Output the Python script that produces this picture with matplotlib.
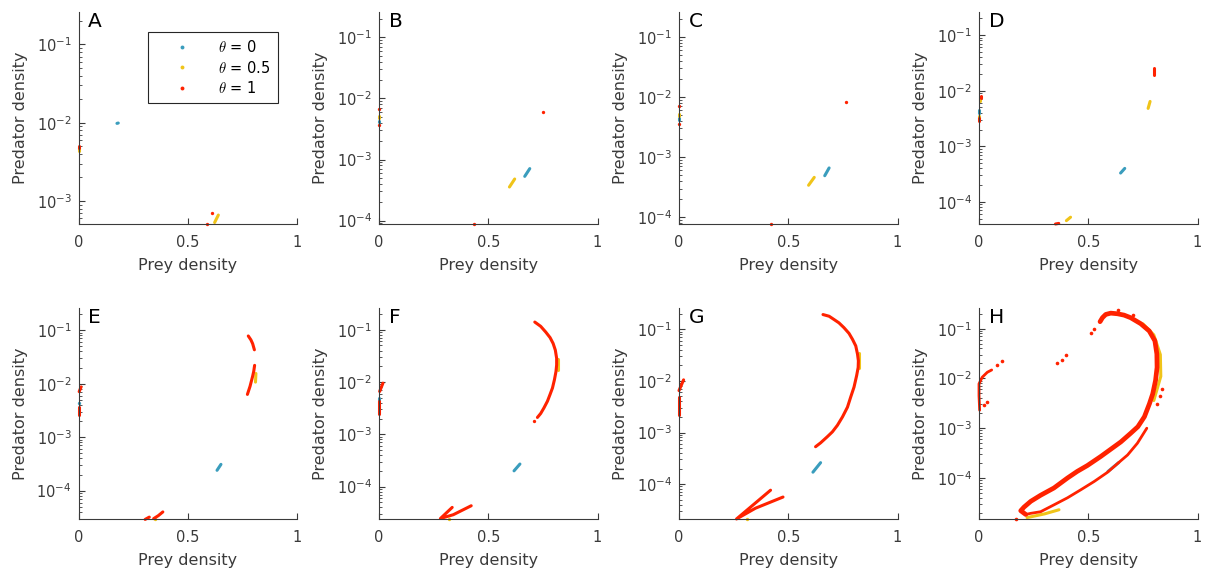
import matplotlib.pyplot as plt
from matplotlib.lines import Line2D

plt.rcParams['font.family'] = 'DejaVu Sans'
plt.rcParams['mathtext.fontset'] = 'cm'

BLUE = '#3a9dbd'
YELLOW = '#f0c419'
RED = '#ff2200'
GREY = '#3a3a3a'

panel_letters = ['A', 'B', 'C', 'D', 'E', 'F', 'G', 'H']
y_bottom = [5.07e-4, 8.8e-5, 7.7e-5, 4.0e-5, 2.95e-5, 2.4e-5, 2.1e-5, 1.5e-5]
y_top = 0.26
x_ticks = [0, 0.5, 1]
x_tick_labels = ['0', '0.5', '1']
legend_labels = [r'$\theta$ = 0', r'$\theta$ = 0.5', r'$\theta$ = 1']

# segments of (prey density, predator density)
A_blue = [[(0.176, 9.8e-3), (0.182, 9.9e-3)]]
A_yellow = [[(0.0, 4.4e-3), (0.0, 4.8e-3)], [(0.623, 5.3e-4), (0.640, 6.6e-4)]]
A_red = [[(0.0, 4.7e-3), (0.0, 5.1e-3)], [(0.612, 7.1e-4)], [(0.588, 5.07e-4)]]

B_blue = [[(0.0, 4.1e-3), (0.0, 4.3e-3)], [(0.667, 5.3e-4), (0.690, 7.1e-4)]]
B_yellow = [[(0.0, 4.7e-3), (0.0, 5.1e-3)], [(0.597, 3.55e-4), (0.621, 4.8e-4)]]
B_red = [[(0.0, 6.7e-3)], [(0.0, 3.7e-3)], [(0.75, 5.9e-3)], [(0.436, 8.8e-5)]]

C_blue = [[(0.0, 4.2e-3), (0.0, 4.4e-3)], [(0.667, 4.9e-4), (0.687, 6.6e-4)]]
C_yellow = [[(0.0, 4.8e-3), (0.0, 5.3e-3)], [(0.593, 3.4e-4), (0.619, 4.6e-4)]]
C_red = [[(0.0, 7.1e-3)], [(0.0, 3.6e-3)], [(0.766, 8.2e-3)], [(0.419, 7.7e-5)]]

D_blue = [[(0.0, 4.0e-3), (0.0, 4.4e-3)], [(0.648, 3.3e-4), (0.667, 4.0e-4)]]
D_yellow = [[(0.005, 6.6e-3), (0.005, 7.3e-3)], [(0.0, 3.2e-3), (0.0, 3.5e-3)],
            [(0.774, 4.8e-3), (0.783, 6.4e-3)], [(0.40, 4.6e-5), (0.419, 5.3e-5)]]
D_red = [[(0.008, 7.4e-3), (0.008, 8.0e-3)], [(0.0, 2.9e-3), (0.0, 3.2e-3)],
         [(0.80, 1.95e-2), (0.80, 2.6e-2)], [(0.35, 4.0e-5), (0.365, 4.1e-5)]]

E_blue = [[(0.0, 4.3e-3)], [(0.634, 2.4e-4), (0.652, 3.1e-4)]]
E_yellow = [[(0.81, 1.07e-2), (0.812, 1.55e-2)], [(0.35, 2.95e-5)]]
E_red = [[(0.003, 7.1e-3), (0.012, 8.7e-3)], [(0.0, 2.6e-3), (0.0, 3.6e-3)],
         [(0.777, 7.8e-2), (0.789, 6.6e-2), (0.797, 5.6e-2), (0.805, 4.3e-2)],
         [(0.806, 2.2e-2), (0.802, 1.7e-2), (0.797, 1.38e-2), (0.785, 8.9e-3), (0.773, 6.3e-3)],
         [(0.305, 2.9e-5), (0.324, 3.2e-5)], [(0.344, 3.0e-5), (0.365, 3.4e-5), (0.386, 4.0e-5)]]

F_blue = [[(0.0, 4.5e-3), (0.0, 4.9e-3)], [(0.618, 2.0e-4), (0.645, 2.7e-4)]]
F_yellow = [[(0.817, 1.7e-2), (0.817, 2.8e-2)], [(0.32, 2.4e-5)]]
F_red = [[(0.003, 6.6e-3), (0.018, 9.5e-3)], [(0.0, 2.4e-3), (0.0, 4.3e-3)],
         [(0.713, 0.140), (0.740, 0.116), (0.763, 0.0903), (0.783, 0.0706), (0.797, 0.0545),
          (0.807, 0.0407), (0.813, 0.0284), (0.813, 0.0212), (0.810, 0.0159), (0.803, 0.0111),
          (0.794, 7.7e-3), (0.783, 5.8e-3), (0.771, 4.3e-3), (0.755, 3.2e-3), (0.740, 2.5e-3),
          (0.725, 2.1e-3)],
         [(0.709, 1.8e-3)],
         [(0.335, 4.0e-5), (0.281, 2.45e-5), (0.34, 2.9e-5), (0.422, 4.3e-5)]]

G_blue = [[(0.613, 1.7e-4), (0.648, 2.6e-4)]]
G_yellow = [[(0.822, 1.8e-2), (0.822, 3.5e-2)], [(0.312, 2.1e-5)]]
G_red = [[(0.0, 6.5e-3), (0.021, 1.05e-2)], [(0.0, 2.2e-3), (0.0, 4.9e-3)],
         [(0.659, 0.194), (0.687, 0.180), (0.709, 0.156), (0.732, 0.134), (0.755, 0.108),
          (0.778, 0.0838), (0.794, 0.0642), (0.809, 0.0478), (0.817, 0.0331), (0.821, 0.0246),
          (0.820, 0.0183), (0.813, 0.0127), (0.801, 7.6e-3), (0.786, 4.9e-3), (0.771, 3.1e-3),
          (0.748, 2.0e-3), (0.725, 1.38e-3), (0.702, 1.03e-3), (0.679, 8.3e-4),
          (0.648, 6.3e-4), (0.625, 5.3e-4)],
         [(0.419, 7.6e-5), (0.263, 2.1e-5), (0.35, 3.4e-5), (0.476, 5.6e-5)]]

H_blue = [[(0.59, 1.35e-4), (0.64, 2.05e-4)]]
H_yellow = [[(0.75, 0.125), (0.80, 0.075), (0.83, 0.03), (0.832, 0.011), (0.80, 3.6e-3)],
            [(0.22, 1.6e-5), (0.30, 1.9e-5), (0.366, 2.3e-5)]]
H_red_loop = [(0.554, 0.138), (0.565, 0.166), (0.580, 0.193), (0.603, 0.205), (0.634, 0.199),
              (0.664, 0.187), (0.694, 0.166), (0.740, 0.126), (0.779, 0.090), (0.805, 0.057),
              (0.814, 0.031), (0.815, 0.0167), (0.808, 9.1e-3), (0.795, 4.9e-3), (0.780, 3.1e-3),
              (0.757, 1.7e-3), (0.727, 1.07e-3), (0.694, 7.9e-4), (0.649, 5.3e-4),
              (0.557, 2.7e-4), (0.496, 1.78e-4), (0.450, 1.36e-4), (0.405, 1.0e-4),
              (0.343, 6.3e-5), (0.282, 4.5e-5), (0.237, 3.4e-5), (0.206, 2.6e-5),
              (0.191, 2.2e-5), (0.214, 1.85e-5)]
H_red_inner = [(0.214, 1.85e-5), (0.237, 1.95e-5), (0.282, 2.1e-5), (0.344, 2.9e-5),
               (0.405, 4.0e-5), (0.466, 5.8e-5), (0.527, 8.5e-5), (0.588, 1.3e-4),
               (0.634, 1.95e-4), (0.680, 2.9e-4), (0.725, 5.0e-4), (0.768, 1.0e-3)]
H_red_left = [(0.003, 2.3e-3), (0.0, 4.5e-3), (0.0, 7.8e-3), (0.015, 0.0106), (0.038, 0.0133),
              (0.058, 0.0148)]
H_red_dots_x = [0.084, 0.104, 0.023, 0.038, 0.359, 0.382, 0.40, 0.511, 0.526,
                0.839, 0.829, 0.816, 0.637, 0.705, 0.168]
H_red_dots_y = [0.019, 0.022, 2.9e-3, 3.4e-3, 0.020, 0.024, 0.029, 0.083, 0.10,
                6.2e-3, 4.4e-3, 3.0e-3, 0.235, 0.187, 1.5e-5]

H_red = [H_red_left, H_red_inner] + [[(x, y)] for x, y in zip(H_red_dots_x, H_red_dots_y)]

panel_blue = [A_blue, B_blue, C_blue, D_blue, E_blue, F_blue, G_blue, H_blue]
panel_yellow = [A_yellow, B_yellow, C_yellow, D_yellow, E_yellow, F_yellow, G_yellow, H_yellow]
panel_red = [A_red, B_red, C_red, D_red, E_red, F_red, G_red, H_red]


def draw(ax, segs, color, lw=2.2, ms=2.4):
    for seg in segs:
        xs = [p[0] for p in seg]
        ys = [p[1] for p in seg]
        if len(seg) == 1:
            ax.plot(xs, ys, linestyle='none', marker='o', markersize=ms,
                    markeredgewidth=0, color=color, clip_on=False)
        else:
            ax.plot(xs, ys, color=color, linewidth=lw, solid_capstyle='round',
                    solid_joinstyle='round', clip_on=False)


fig = plt.figure(figsize=(12.1, 5.78), dpi=100)
W, H = 1210.0, 578.0
lefts = [78.5, 379, 679, 979]
rows = [(12, 224), (308, 519)]

for i in range(8):
    r, c = divmod(i, 4)
    top, bot = rows[r]
    ax = fig.add_axes([lefts[c] / W, 1 - bot / H, 218.5 / W, (bot - top) / H])
    ax.set_yscale('log')

    draw(ax, panel_blue[i], BLUE)
    draw(ax, panel_yellow[i], YELLOW)
    if i == 7:
        xs = [p[0] for p in H_red_loop]
        ys = [p[1] for p in H_red_loop]
        ax.plot(xs, ys, color=RED, linewidth=3.4, solid_capstyle='round',
                solid_joinstyle='round', clip_on=False)
        draw(ax, panel_red[i], RED, lw=2.0, ms=2.6)
    else:
        draw(ax, panel_red[i], RED)

    ax.set_xlim(0, 1)
    ax.set_ylim(y_bottom[i], y_top)
    ax.set_xticks(x_ticks)
    ax.set_xticklabels(x_tick_labels)
    ax.spines['top'].set_visible(False)
    ax.spines['right'].set_visible(False)
    for s in ['left', 'bottom']:
        ax.spines[s].set_color(GREY)
        ax.spines[s].set_linewidth(0.8)
    ax.tick_params(which='both', direction='in', colors=GREY, labelsize=10.5)
    ax.tick_params(which='major', length=4)
    ax.tick_params(which='minor', length=2)
    ax.tick_params(axis='x', pad=8)
    ax.tick_params(axis='y', pad=5)
    ax.set_xlabel('Prey density', fontsize=11.5, color=GREY, labelpad=6)
    ax.set_ylabel('Predator density', fontsize=11.5, color=GREY, labelpad=6)
    ax.text(0.045, 1.0, panel_letters[i], transform=ax.transAxes, fontsize=14.5,
            va='top', ha='left', color='black')

    if i == 0:
        handles = [Line2D([], [], linestyle='none', marker='o', markersize=2.8,
                          markeredgewidth=0, color=col)
                   for col in (BLUE, YELLOW, RED)]
        leg = ax.legend(handles, legend_labels, loc='upper left',
                        bbox_to_anchor=(0.32, 0.906), borderaxespad=0,
                        fancybox=False, framealpha=1, edgecolor='#262626',
                        fontsize=10.5, handlelength=3.6, handletextpad=0.7,
                        borderpad=0.5, labelspacing=0.3)
        leg.get_frame().set_linewidth(0.8)

fig.savefig('out.png', dpi=100)
